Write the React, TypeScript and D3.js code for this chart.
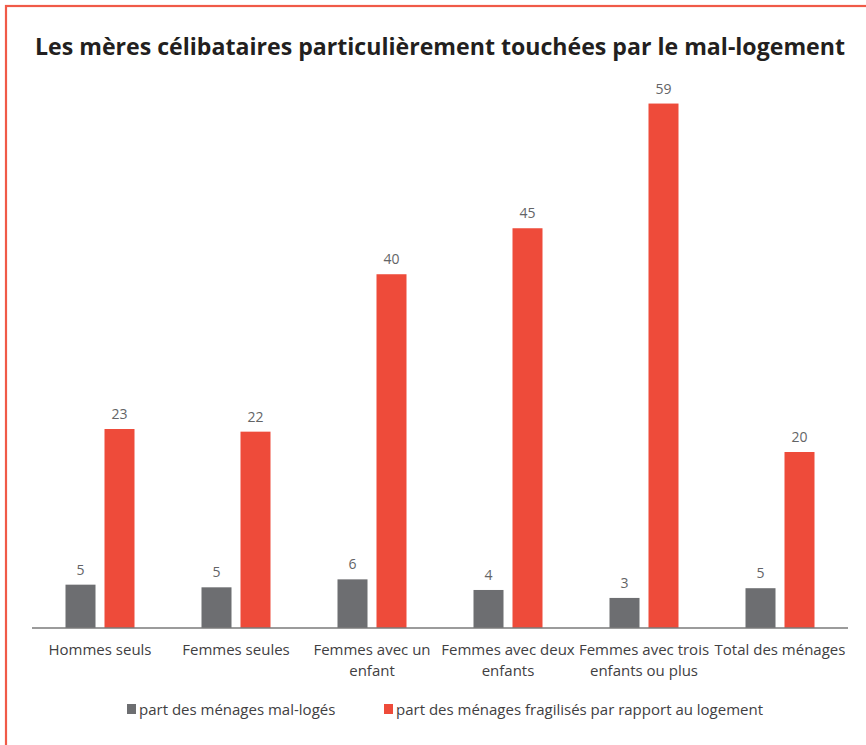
import React from "react";
import * as d3 from "d3";

const title = "Les mères célibataires particulièrement touchées par le mal-logement";
const categories = [
  ["Hommes seuls"],
  ["Femmes seules"],
  ["Femmes avec un", "enfant"],
  ["Femmes avec deux", "enfants"],
  ["Femmes avec trois", "enfants ou plus"],
  ["Total des ménages"],
];
const seriesNames = [
  "part des ménages mal-logés",
  "part des ménages fragilisés par rapport au logement",
];
const malLoges = [4.9, 4.6, 5.5, 4.3, 3.4, 4.5];
const fragilises = [22.5, 22.2, 40.0, 45.2, 59.3, 19.9];
const colors = ["#6d6e71", "#ee4b3a"];

const W = 866;
const H = 745;
const baseY = 628;
const left = 32;
const right = 848;

export default function App() {
  const keys = categories.map((c) => c.join(" "));
  const x0 = d3.scaleBand<string>().domain(keys).range([left, right]).paddingInner(0).paddingOuter(0);
  const groupW = 69;
  const x1 = d3.scaleBand<number>().domain([0, 1]).range([0, groupW]).paddingInner(9 / 39).paddingOuter(0);
  const y = d3.scaleLinear().domain([0, 60]).range([baseY, baseY - 60 * 8.844]);
  const series = [malLoges, fragilises];
  const font = "'Open Sans', 'DejaVu Sans', sans-serif";

  return (
    <svg
      width={W}
      height={H}
      style={{ position: "absolute", left: 0, top: 0, background: "#fff" }}
      fontFamily={font}
    >
      <rect x={6} y={6} width={W + 10} height={H + 10} fill="#fff" stroke="#f05a48" strokeWidth={2.2} />
      <text
        x={440}
        y={55}
        textAnchor="middle"
        fontSize={23}
        fontWeight={700}
        fill="#231f20"
        textLength={810}
        lengthAdjust="spacingAndGlyphs"
      >
        {title}
      </text>
      {keys.map((k, ci) => {
        const gx = (x0(k) as number) + (x0.bandwidth() - groupW) / 2;
        return (
          <g key={k}>
            {series.map((vals, si) => {
              const bx = gx + (x1(si) as number);
              const v = vals[ci];
              return (
                <g key={si}>
                  <rect x={bx} y={y(v)} width={x1.bandwidth()} height={baseY - y(v)} fill={colors[si]} />
                  <text
                    x={bx + x1.bandwidth() / 2}
                    y={y(v) - 10}
                    textAnchor="middle"
                    fontSize={14}
                    fill="#636466"
                  >
                    {Math.round(v)}
                  </text>
                </g>
              );
            })}
            {categories[ci].map((line, li) => (
              <text
                key={li}
                x={(x0(k) as number) + x0.bandwidth() / 2}
                y={655 + li * 21}
                textAnchor="middle"
                fontSize={15}
                fill="#414042"
              >
                {line}
              </text>
            ))}
          </g>
        );
      })}
      <line x1={left} x2={right} y1={baseY} y2={baseY} stroke="#7a7a7a" strokeWidth={1.5} />
      {seriesNames.map((n, i) => {
        const lx = i === 0 ? 127 : 384;
        return (
          <g key={n}>
            <rect x={lx} y={704} width={9} height={10} fill={colors[i]} />
            <text x={lx + 12} y={714.5} fontSize={15} fill="#414042">
              {n}
            </text>
          </g>
        );
      })}
    </svg>
  );
}
